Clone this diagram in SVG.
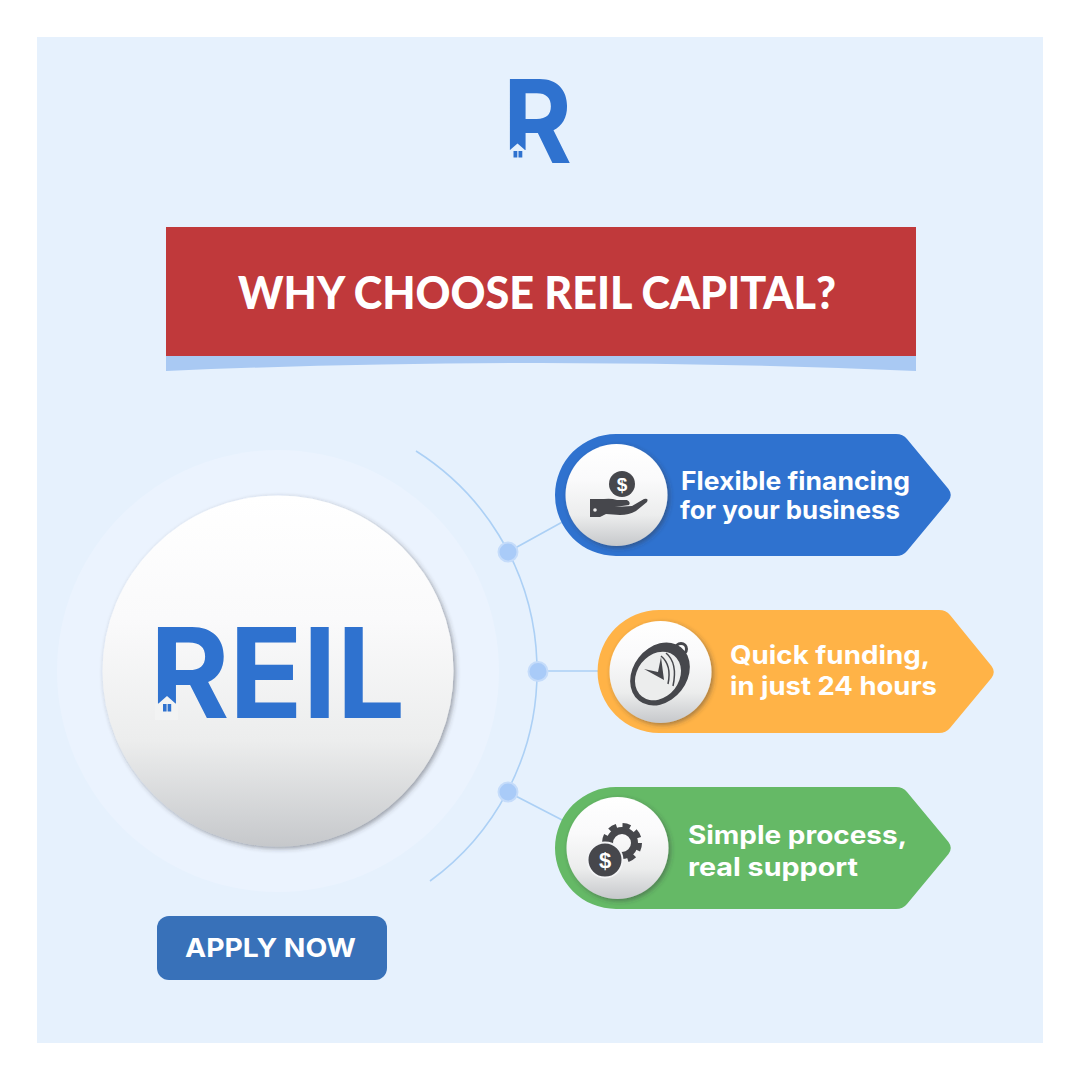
<svg xmlns="http://www.w3.org/2000/svg" width="1080" height="1080" viewBox="0 0 1080 1080">
<style>
.lbl{font-family:"Inter","Noto Sans","Liberation Sans",sans-serif;font-weight:700;fill:#fff;font-size:25px}
.logo{font-family:"Inter","Liberation Sans",sans-serif;font-weight:700;fill:#2f72cf}
.dark{fill:#46474c}
.dollar{font-family:"Liberation Sans",sans-serif;font-weight:700;fill:#fff;text-anchor:middle}
.wire{fill:none;stroke:#acd0f5;stroke-width:1.6}
.dot{fill:#a9cbf8;stroke:#c5dcfa;stroke-width:2}
</style>
<defs>
<linearGradient id="ball" x1="0" y1="0" x2="0" y2="1"><stop offset="0" stop-color="#fff"/><stop offset=".35" stop-color="#fafafb"/><stop offset=".7" stop-color="#eceded"/><stop offset="1" stop-color="#c6c8cb"/></linearGradient>
<filter id="sh" x="-20%" y="-20%" width="140%" height="140%"><feDropShadow dx="2" dy="2" stdDeviation="2.500" flood-color="#30343c" flood-opacity=".45"/></filter>
</defs>
<rect width="1080" height="1080" fill="#fff"/>
<rect x="37" y="37" width="1006" height="1006" fill="#e6f1fd"/>

<g id="top-logo">
<text class="logo" x="503" y="163" font-size="116" textLength="69" lengthAdjust="spacingAndGlyphs">R</text>
<path d="M506 150H510L517.500 143.500L525 150H529V166H506Z" fill="#e6f1fd"/>
<path d="M513.500 151h3.800v6.500h-3.800zM518.500 151h3.800v6.500h-3.800z" fill="#2f72cf"/>
</g>

<g id="title-banner">
<path d="M166 356H916V371Q730 363 541 363T166 371Z" fill="#a9c9f3"/>
<rect x="166" y="227" width="750" height="129" fill="#c0393b"/>
<text x="238" y="309" font-family="Lato,'Liberation Sans',sans-serif" font-weight="900" font-size="46" fill="#fff" textLength="598" lengthAdjust="spacingAndGlyphs">WHY CHOOSE REIL CAPITAL?</text>
</g>

<g id="connectors">
<path class="wire" d="M416 451A260 260 0 0 1 430 881"/>
<path class="wire" d="M508 552L566 520M538 671H600M508 792L566 822"/>
<circle class="dot" cx="508" cy="552" r="9.500"/>
<circle class="dot" cx="538" cy="671.500" r="9.500"/>
<circle class="dot" cx="508" cy="792" r="9.500"/>
</g>

<g id="reil-hub">
<circle cx="278" cy="671" r="221" fill="#ebf3fe"/>
<circle cx="278" cy="671" r="175.500" fill="url(#ball)" filter="url(#sh)"/>
<text class="logo" x="150" y="718" font-size="125" textLength="255" lengthAdjust="spacingAndGlyphs">REIL</text>
<path d="M155 703.500H158.500L167 696L175.500 703.500H178V720H155Z" fill="#f2f3f3"/>
<path d="M163 704h3.600v7.500h-3.600zM167.600 704h3.600v7.500h-3.600z" fill="#2f72cf"/>
</g>

<g id="apply-now">
<rect x="157" y="916" width="230" height="64" rx="12" fill="#3871b9"/>
<text x="185" y="957" font-family="Inter,'Liberation Sans',sans-serif" font-weight="700" font-size="26" fill="#fff" textLength="171" lengthAdjust="spacingAndGlyphs">APPLY NOW</text>
</g>

<g id="flexible-financing">
<path d="M616 434H896Q903 434 907 439L948.500 489Q953 495 948.500 501L907 551Q903 556 896 556H616A61 61 0 0 1 616 434Z" fill="#2f72cf"/>
<circle cx="616.500" cy="495" r="51" fill="url(#ball)" filter="url(#sh)"/>
<circle class="dark" cx="622" cy="484" r="13"/>
<text class="dollar" x="622" y="491" font-size="19">$</text>
<path class="dark" d="M590 499H604Q611 498 617 500L627 500Q631 502 629 505L615 507L632 506L644 499Q649 498 647 502L636 511Q629 515 620 515L606 514L600 517H590Z"/>
<circle cx="595" cy="510" r="1.800" fill="#eee"/>
<text class="lbl" x="681" y="490" textLength="229" lengthAdjust="spacingAndGlyphs">Flexible financing</text>
<text class="lbl" x="680" y="519" textLength="220" lengthAdjust="spacingAndGlyphs">for your business</text>
</g>

<g id="quick-funding">
<path d="M659 610H939Q946 610 950 615L991.500 666Q996 672 991.500 678L950 728Q946 733 939 733H659A61.500 61.500 0 0 1 659 610Z" fill="#ffb347"/>
<circle cx="660.500" cy="672" r="51" fill="url(#ball)" filter="url(#sh)"/>
<circle cx="681" cy="649" r="5.500" fill="none" stroke="#46474c" stroke-width="3"/>
<ellipse class="dark" cx="660" cy="674" rx="27" ry="34" transform="rotate(38 660 674)"/>
<ellipse cx="658" cy="676" rx="21" ry="26" transform="rotate(38 658 676)" fill="#eceded"/>
<path fill="none" stroke="#46474c" stroke-width="1.500" d="M661 656Q672 665 668 684M666 653Q678 663 673 686"/>
<path class="dark" d="M644 669L658 672L661 657L664 680Z"/>
<text class="lbl" x="730" y="664" font-size="26" textLength="200" lengthAdjust="spacingAndGlyphs">Quick funding,</text>
<text class="lbl" x="730" y="695" font-size="26" textLength="207" lengthAdjust="spacingAndGlyphs">in just 24 hours</text>
</g>

<g id="simple-process">
<path d="M616 787H896Q903 787 907 792L948.500 842Q953 848 948.500 854L907 904Q903 909 896 909H616A61 61 0 0 1 616 787Z" fill="#65b966"/>
<circle cx="617.500" cy="848" r="51" fill="url(#ball)" filter="url(#sh)"/>
<circle cx="622" cy="843" r="12.500" fill="none" stroke="#46474c" stroke-width="7"/>
<circle cx="622" cy="843" r="17" fill="none" stroke="#46474c" stroke-width="6" stroke-dasharray="7.500 5.850"/>
<circle class="dark" cx="605" cy="860" r="17.500" stroke="#f3f4f6" stroke-width="2"/>
<text class="dollar" x="605" y="868" font-size="22">$</text>
<text class="lbl" x="688" y="844" font-size="26" textLength="219" lengthAdjust="spacingAndGlyphs">Simple process,</text>
<text class="lbl" x="688" y="876" font-size="26" textLength="170" lengthAdjust="spacingAndGlyphs">real support</text>
</g>
</svg>
